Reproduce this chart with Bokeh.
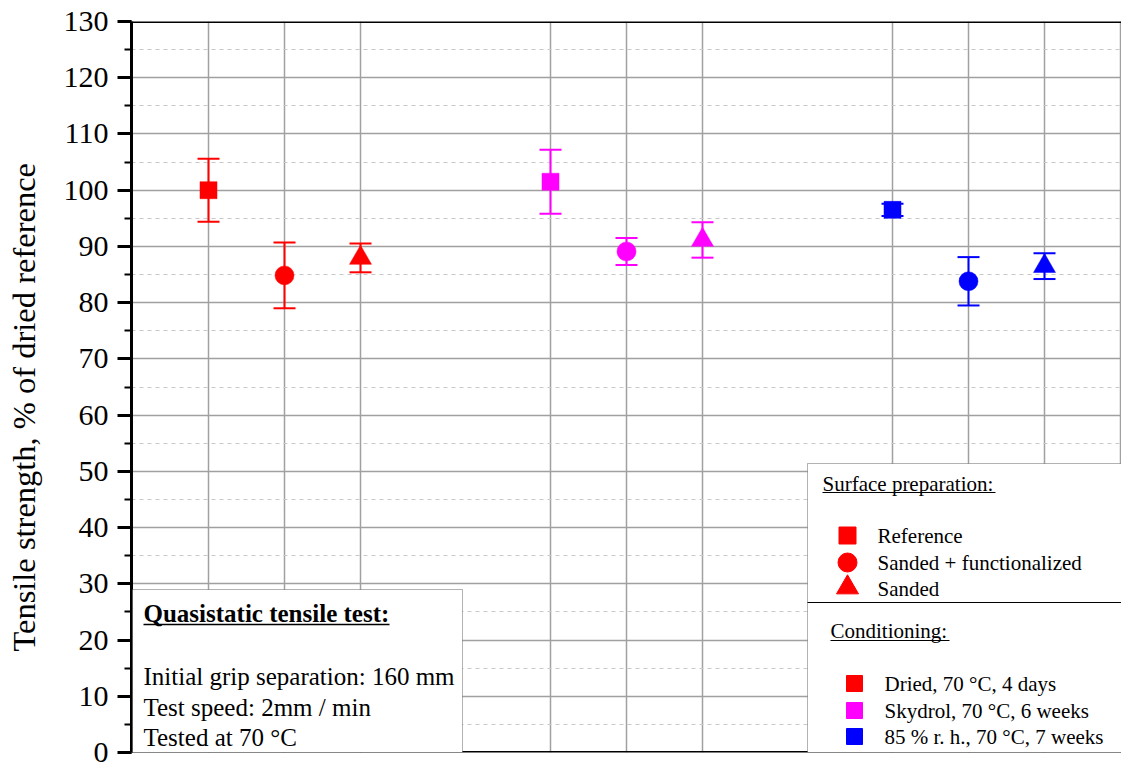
from bokeh.plotting import figure
from bokeh.models import (Range1d, SingleIntervalTicker, FixedTicker, Whisker, TeeHead,
                          ColumnDataSource, BoxAnnotation, Label, Span)
from bokeh.embed import file_html
from bokeh.resources import INLINE

# ---------------- data ----------------
conditions = ["Dried, 70 °C, 4 days", "Skydrol, 70 °C, 6 weeks", "85 % r. h., 70 °C, 7 weeks"]
condition_colors = ["#ff0000", "#ff00ff", "#0000ff"]
preparations = ["Reference", "Sanded + functionalized", "Sanded"]
prep_markers = ["square", "circle", "triangle"]
prep_sizes = [17, 19, 22]

x_dried = [1, 2, 3]
x_skydrol = [5.5, 6.5, 7.5]
x_humid = [10, 11, 12]

mean_dried = [100.0, 84.85, 87.95]
err_dried = [5.6, 5.85, 2.55]
mean_skydrol = [101.5, 89.1, 91.15]
err_skydrol = [5.7, 2.4, 3.15]
mean_humid = [96.5, 83.8, 86.5]
err_humid = [1.1, 4.3, 2.3]

y_ticks_interval = 10
y_title = "Tensile strength, % of dried reference"

# ---------------- figure ----------------
FONT = "Liberation Serif"
X_START = -0.0132
X_END = X_START + (1121 - 131) / 76

p = figure(width=1121, height=762, output_backend="svg", toolbar_location=None,
           x_range=Range1d(X_START, X_END), y_range=Range1d(0, 130),
           min_border_left=131, min_border_top=21, min_border_bottom=10, min_border_right=0)
p.outline_line_color = None
p.background_fill_color = "white"

p.xaxis.visible = False
p.yaxis.ticker = SingleIntervalTicker(interval=y_ticks_interval, num_minor_ticks=2)
# trailing no-break spaces shift the centred title slightly downwards, as in the reference
p.yaxis.axis_label = y_title + "\u00a0" * 5
p.yaxis.axis_label_text_font = FONT
p.yaxis.axis_label_text_font_size = "32.5px"
p.yaxis.axis_label_text_font_style = "normal"
p.yaxis.axis_label_text_color = "black"
p.yaxis.axis_label_standoff = 19
p.yaxis.major_label_text_font = FONT
p.yaxis.major_label_text_font_size = "30px"
p.yaxis.major_label_text_color = "black"
p.yaxis.major_label_standoff = 9
p.yaxis.axis_line_width = 3
p.yaxis.axis_line_color = "black"
p.yaxis.major_tick_out = 14
p.yaxis.major_tick_in = 0
p.yaxis.major_tick_line_width = 3
p.yaxis.major_tick_line_color = "black"
p.yaxis.minor_tick_out = 7
p.yaxis.minor_tick_in = 0
p.yaxis.minor_tick_line_width = 2
p.yaxis.minor_tick_line_color = "black"

p.ygrid.grid_line_color = "#a0a0a0"
p.ygrid.grid_line_width = 1.5
p.ygrid.minor_grid_line_color = "#c8c8c8"
p.ygrid.minor_grid_line_width = 1
p.ygrid.minor_grid_line_dash = "4 4"

all_x = x_dried + x_skydrol + x_humid
p.xgrid.ticker = FixedTicker(ticks=all_x + [13])
p.xgrid.grid_line_color = "#a0a0a0"
p.xgrid.grid_line_width = 1.5

p.add_layout(Span(location=130, dimension="width", line_color="black", line_width=3))
p.add_layout(Span(location=0, dimension="width", line_color="black", line_width=3))

# ---------------- data marks ----------------
for xs, means, errs, color in [(x_dried, mean_dried, err_dried, condition_colors[0]),
                               (x_skydrol, mean_skydrol, err_skydrol, condition_colors[1]),
                               (x_humid, mean_humid, err_humid, condition_colors[2])]:
    src = ColumnDataSource(dict(
        x=xs, y=means,
        upper=[m + e for m, e in zip(means, errs)],
        lower=[m - e for m, e in zip(means, errs)],
        marker=prep_markers, size=prep_sizes))
    w = Whisker(source=src, base="x", upper="upper", lower="lower", dimension="height",
                line_color=color, line_width=2,
                upper_head=TeeHead(size=22, line_color=color, line_width=2),
                lower_head=TeeHead(size=22, line_color=color, line_width=2))
    p.add_layout(w)
    p.scatter(x="x", y="y", source=src, marker="marker", size="size",
              fill_color=color, line_color=color, line_width=0.5)

# ---------------- annotations (pixel helpers) ----------------
def ax(px):
    return (px - 131) / 76 + X_START

def ay(py):
    return (752 - py) * 130 / 731

# Test info box
p.add_layout(BoxAnnotation(left=ax(132), right=ax(462), bottom=0, top=ay(589),
                           fill_color="white", fill_alpha=1, line_color="black", line_width=1))
# Legend box
p.add_layout(BoxAnnotation(left=ax(807), bottom=0, top=ay(463),
                           fill_color="white", fill_alpha=1, line_color="black", line_width=1))

def label(px, py, text, size, style="normal"):
    p.add_layout(Label(x=ax(px), y=ay(py), text=text, text_font=FONT, text_font_size=size,
                       text_font_style=style, text_baseline="middle", text_align="left",
                       text_color="black", level="overlay"))

label(143, 613, "Quasistatic tensile test:", "25px", "bold")
label(143, 676, "Initial grip separation: 160 mm", "25px")
label(143, 707, "Test speed: 2mm / min", "25px")
label(143, 737, "Tested at 70 °C", "25px")

label(822, 483, "Surface preparation:", "21px")
for name, py in zip(preparations, [535, 562, 588]):
    label(877, py, name, "21px")
label(830, 630, "Conditioning:", "21px")
for name, py in zip(conditions, [683, 710, 736]):
    label(884, py, name, "21px")

# underlines and divider
p.segment(x0=[ax(143), ax(822), ax(830), ax(807)],
          y0=[ay(624), ay(492), ay(640), ay(602)],
          x1=[ax(389), ax(995), ax(949), X_END],
          y1=[ay(624), ay(492), ay(640), ay(602)],
          line_color="black", line_width=[1.5, 1.2, 1.2, 1.2], level="overlay")

# legend markers
p.scatter(x=[ax(847)] * 3, y=[ay(535), ay(562), ay(587)], marker=prep_markers,
          size=prep_sizes, fill_color=condition_colors[0], line_color=condition_colors[0],
          level="overlay")
p.scatter(x=[ax(854)] * 3, y=[ay(683), ay(710), ay(736)], marker="square", size=16,
          fill_color=condition_colors, line_color=condition_colors, level="overlay")

open("out.html", "w").write(file_html(p, INLINE))
